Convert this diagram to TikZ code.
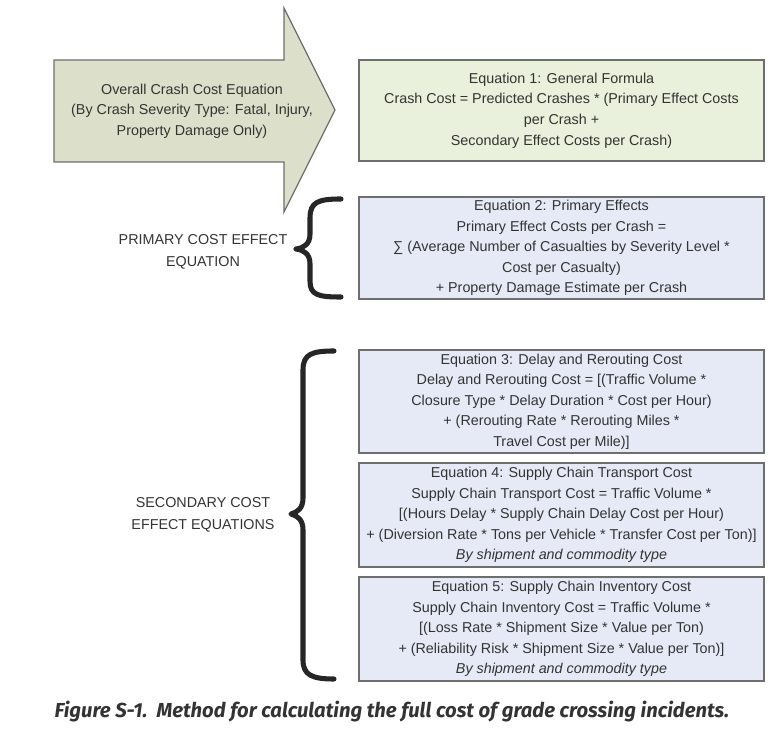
\documentclass[tikz,border=0pt]{standalone}
\usepackage{fontspec}
\setmainfont{Liberation Sans}
\newfontfamily\captionfont{Fira Sans}
\usepackage{xcolor}
\definecolor{txtgray}{HTML}{333333}
\definecolor{linegray}{HTML}{6E6E6E}
\definecolor{arrowfill}{HTML}{DCDFCA}
\definecolor{greenfill}{HTML}{E9F0DC}
\definecolor{bluefill}{HTML}{E6EAF6}
\definecolor{bracecol}{HTML}{262626}

\tikzset{
  eqbox/.style={draw=linegray, line width=0.9pt, minimum width=303.75pt,
    align=center, text=txtgray, inner sep=0pt,
    font=\fontsize{10.75}{15.4}\selectfont},
  sidelabel/.style={align=center, text=txtgray, font=\fontsize{10.75}{16.5}\selectfont},
  brace/.style={draw=bracecol, line width=3.8pt, line cap=round, line join=round}
}

\begin{document}
\begin{tikzpicture}[x=0.75pt,y=-0.75pt]
            \useasboundingbox (0,0) rectangle (783,738);

            % big arrow
            \draw[draw=linegray, line width=0.9pt, fill=arrowfill]
              (54,60) -- (284,60) -- (284,8) -- (335,110) -- (284,212) -- (284,162) -- (54,162) -- cycle;
            \node[align=center, text=txtgray, font=\fontsize{10.75}{15.5}\selectfont] (overall) at (192,111)
              {Overall Crash Cost Equation\\(By Crash Severity Type: Fatal, Injury,\\Property Damage Only)};

            % equation boxes
            \node[eqbox, fill=greenfill, minimum height=75.75pt] (eqone) at (561.5,110.5)
              {Equation 1: General Formula\\Crash Cost = Predicted Crashes * (Primary Effect Costs\\per Crash +\\Secondary Effect Costs per Crash)};
            \node[eqbox, fill=bluefill, minimum height=76.5pt] (eqtwo) at (561.5,248)
              {Equation 2: Primary Effects\\Primary Effect Costs per Crash =\\∑ (Average Number of Casualties by Severity Level *\\Cost per Casualty)\\+ Property Damage Estimate per Crash};
            \node[eqbox, fill=bluefill, minimum height=77.25pt] (eqthree) at (561.5,401.5)
              {Equation 3: Delay and Rerouting Cost\\Delay and Rerouting Cost = {[}(Traffic Volume *\\Closure Type * Delay Duration * Cost per Hour)\\+ (Rerouting Rate * Rerouting Miles *\\Travel Cost per Mile)]};
            \node[eqbox, fill=bluefill, minimum height=78pt] (eqfour) at (561.5,515)
              {Equation 4: Supply Chain Transport Cost\\Supply Chain Transport Cost = Traffic Volume *\\{[}(Hours Delay * Supply Chain Delay Cost per Hour)\\+ (Diversion Rate * Tons per Vehicle * Transfer Cost per Ton)]\\\textit{By shipment and commodity type}};
            \node[eqbox, fill=bluefill, minimum height=78pt] (eqfive) at (561.5,629)
              {Equation 5: Supply Chain Inventory Cost\\Supply Chain Inventory Cost = Traffic Volume *\\{[}(Loss Rate * Shipment Size * Value per Ton)\\+ (Reliability Risk * Shipment Size * Value per Ton)]\\\textit{By shipment and commodity type}};

            % side labels
            \node[sidelabel] (primary) at (203,252) {PRIMARY COST EFFECT\\EQUATION};
            \node[sidelabel] (secondary) at (203,515) {SECONDARY COST\\EFFECT EQUATIONS};

            % braces
            \draw[brace] (341,199) .. controls (318,199) and (310,202) .. (310,218)
              -- (310,234) .. controls (310,244) and (304,248) .. (296,249)
              .. controls (304,250) and (310,254) .. (310,264)
              -- (310,281) .. controls (310,295) and (318,297) .. (341,297);
            \draw[brace] (334,351) .. controls (312,351) and (303,354) .. (303,370)
              -- (303,498) .. controls (303,508) and (298,512) .. (291,514)
              .. controls (298,516) and (303,520) .. (303,530)
              -- (303,660) .. controls (303,675) and (312,679) .. (334,679);

            % caption
            \node[anchor=west, text=txtgray, font=\captionfont\bfseries\itshape\fontsize{15.2}{17}\selectfont] (caption) at (50,712)
              {Figure S-1.\ \ Method for calculating the full cost of grade crossing incidents.};
        \end{tikzpicture}
\end{document}
